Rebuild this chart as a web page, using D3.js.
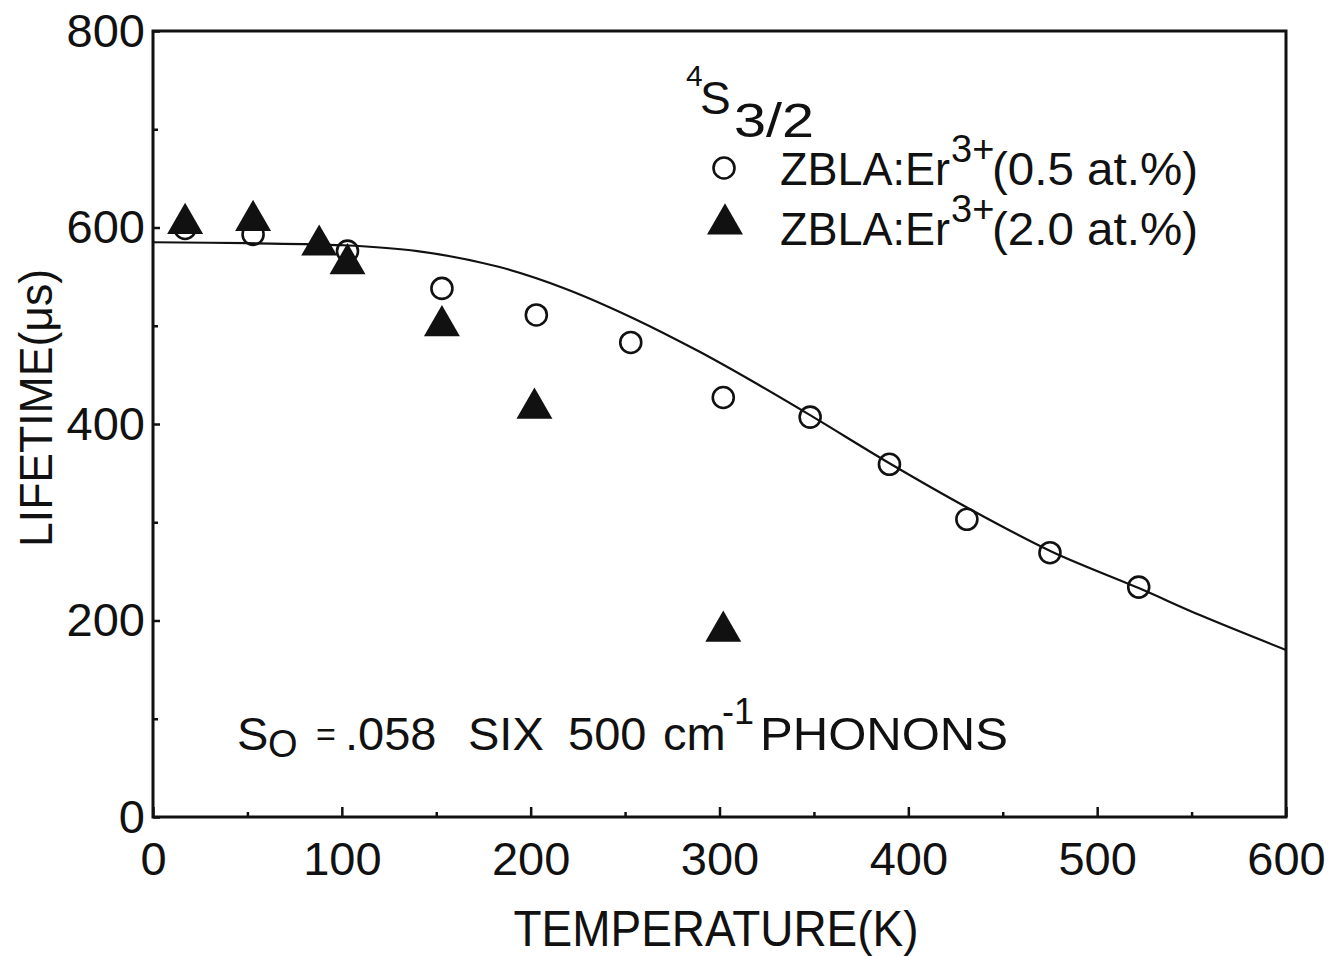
<!DOCTYPE html>
<html>
<head>
<meta charset="utf-8">
<script src="https://cdn.jsdelivr.net/npm/d3@7"></script>
<style>
  html, body { margin: 0; padding: 0; background: #fff; }
  svg text { font-family: "Liberation Sans", Arial, Helvetica, sans-serif; fill: #111; }
</style>
</head>
<body>
<svg id="chart" width="1331" height="956"></svg>
<script>
// ---- data ----
const xTicks = [0, 100, 200, 300, 400, 500, 600];
const xMinorTicks = [50, 150, 250, 350, 450, 550];
const yTicks = [0, 200, 400, 600, 800];
const yMinorTicks = [100, 300, 500, 700];

// 4S3/2 lifetime, ZBLA:Er3+ (0.5 at.%) – open circles
const lowTemp = [17, 53, 103, 153, 203, 253, 302, 348, 390, 431, 475, 522];
const lowLife = [599, 593, 576, 538, 511, 483, 427, 407, 359, 303, 269, 234];

// ZBLA:Er3+ (2.0 at.%) – filled triangles
const highTemp = [17, 53, 88, 103, 153, 202, 302];
const highLife = [604, 607, 582, 563, 500, 416, 189];

// fitted curve
const fitTemp = [0, 50, 100, 140, 183, 218, 254, 289, 317, 348, 390, 432, 476, 522, 555, 600];
const fitLife = [585, 584, 582, 576, 560, 538, 508, 474, 444, 409, 360, 314, 270, 233, 205, 170];

const legendLabels = ["(0.5 at.%)", "(2.0 at.%)"];

// ---- layout ----
const svg = d3.select("#chart");
const mL = 153, mR = 1286, mT = 31, mB = 817;
const x = d3.scaleLinear().domain([0, 600]).range([mL, mR]);
const y = d3.scaleLinear().domain([0, 800]).range([mB, mT]);
const ink = "#111";

// frame
svg.append("rect")
  .attr("x", mL).attr("y", mT)
  .attr("width", mR - mL).attr("height", mB - mT)
  .attr("fill", "none").attr("stroke", ink).attr("stroke-width", 3);

// x axis (ticks inward)
const xAxis = svg.append("g").attr("transform", `translate(0,${mB})`)
  .call(d3.axisBottom(x).tickValues(xTicks).tickSize(-10).tickFormat(d3.format("d")));
xAxis.select(".domain").remove();
xAxis.selectAll(".tick line").attr("stroke", ink).attr("stroke-width", 2.5);
xAxis.selectAll(".tick text").attr("font-size", 47).attr("dy", "0.71em").attr("y", 25);

const xMinor = svg.append("g").attr("transform", `translate(0,${mB})`)
  .call(d3.axisBottom(x).tickValues(xMinorTicks).tickSize(-5).tickFormat(""));
xMinor.select(".domain").remove();
xMinor.selectAll(".tick line").attr("stroke", ink).attr("stroke-width", 2.5);

// y axis
const yAxis = svg.append("g").attr("transform", `translate(${mL},0)`)
  .call(d3.axisLeft(y).tickValues(yTicks).tickSize(-7).tickFormat(d3.format("d")));
yAxis.select(".domain").remove();
yAxis.selectAll(".tick line").attr("stroke", ink).attr("stroke-width", 2.5);
yAxis.selectAll(".tick text").attr("font-size", 47).attr("x", -8);

const yMinor = svg.append("g").attr("transform", `translate(${mL},0)`)
  .call(d3.axisLeft(y).tickValues(yMinorTicks).tickSize(-5).tickFormat(""));
yMinor.select(".domain").remove();
yMinor.selectAll(".tick line").attr("stroke", ink).attr("stroke-width", 2.5);

// axis titles
svg.append("text")
  .attr("x", 716).attr("y", 946)
  .attr("text-anchor", "middle")
  .attr("font-size", 50)
  .attr("textLength", 405).attr("lengthAdjust", "spacingAndGlyphs")
  .text("TEMPERATURE(K)");

svg.append("text")
  .attr("transform", "translate(52,408) rotate(-90)")
  .attr("text-anchor", "middle")
  .attr("font-size", 47)
  .attr("textLength", 278).attr("lengthAdjust", "spacingAndGlyphs")
  .text("LIFETIME(μs)");

// fitted curve
const fitData = fitTemp.map((t, i) => ({ t, v: fitLife[i] }));
svg.append("path")
  .datum(fitData)
  .attr("fill", "none").attr("stroke", ink).attr("stroke-width", 2.2)
  .attr("d", d3.line().x(d => x(d.t)).y(d => y(d.v)).curve(d3.curveCatmullRom.alpha(0.5)));

// markers
const triSym = d3.symbol().type(d3.symbolTriangle).size(560);
const highData = highTemp.map((t, i) => ({ t, v: highLife[i] }));
const lowData = lowTemp.map((t, i) => ({ t, v: lowLife[i] }));

svg.append("g").selectAll("path")
  .data(highData).join("path")
  .attr("transform", d => `translate(${x(d.t)},${y(d.v)})`)
  .attr("d", triSym)
  .attr("fill", ink);

svg.append("g").selectAll("circle")
  .data(lowData).join("circle")
  .attr("cx", d => x(d.t)).attr("cy", d => y(d.v))
  .attr("r", 10.5)
  .attr("fill", "none").attr("stroke", ink).attr("stroke-width", 2.6);

// legend header  4S3/2
svg.append("text").attr("x", 686).attr("y", 86).attr("font-size", 30).text("4");
svg.append("text").attr("x", 700).attr("y", 114).attr("font-size", 46).text("S");
svg.append("text").attr("x", 734).attr("y", 137).attr("font-size", 48)
  .attr("textLength", 80).attr("lengthAdjust", "spacingAndGlyphs").text("3/2");

// legend rows
const rows = [{ y: 185, sym: "circle" }, { y: 245, sym: "tri" }];
rows.forEach((r, i) => {
  if (r.sym === "circle") {
    svg.append("circle").attr("cx", 724).attr("cy", r.y - 17).attr("r", 10.5)
      .attr("fill", "none").attr("stroke", ink).attr("stroke-width", 2.6);
  } else {
    svg.append("path").attr("transform", `translate(725,${r.y - 21})`).attr("d", triSym).attr("fill", ink);
  }
  svg.append("text").attr("x", 780).attr("y", r.y).attr("font-size", 46)
    .attr("textLength", 170).attr("lengthAdjust", "spacingAndGlyphs").text("ZBLA:Er");
  svg.append("text").attr("x", 951).attr("y", r.y - 23).attr("font-size", 38).text("3+");
  svg.append("text").attr("x", 992).attr("y", r.y).attr("font-size", 46)
    .attr("textLength", 206).attr("lengthAdjust", "spacingAndGlyphs").text(legendLabels[i]);
});

// annotation
const annY = 750;
const annFont = 47;
svg.append("text").attr("x", 237).attr("y", annY).attr("font-size", annFont).text("S");
svg.append("text").attr("x", 268).attr("y", annY + 7).attr("font-size", 38).text("O");
svg.append("text").attr("x", 316).attr("y", annY - 4).attr("font-size", 34).text("=");
svg.append("text").attr("x", 345).attr("y", annY).attr("font-size", annFont).text(".058");
svg.append("text").attr("x", 468).attr("y", annY).attr("font-size", annFont).text("SIX");
svg.append("text").attr("x", 568).attr("y", annY).attr("font-size", annFont).text("500");
svg.append("text").attr("x", 663).attr("y", annY).attr("font-size", annFont).text("cm");
svg.append("text").attr("x", 722).attr("y", annY - 26).attr("font-size", 36).text("-1");
svg.append("text").attr("x", 760).attr("y", annY).attr("font-size", annFont)
  .attr("textLength", 248).attr("lengthAdjust", "spacingAndGlyphs").text("PHONONS");
</script>
</body>
</html>
